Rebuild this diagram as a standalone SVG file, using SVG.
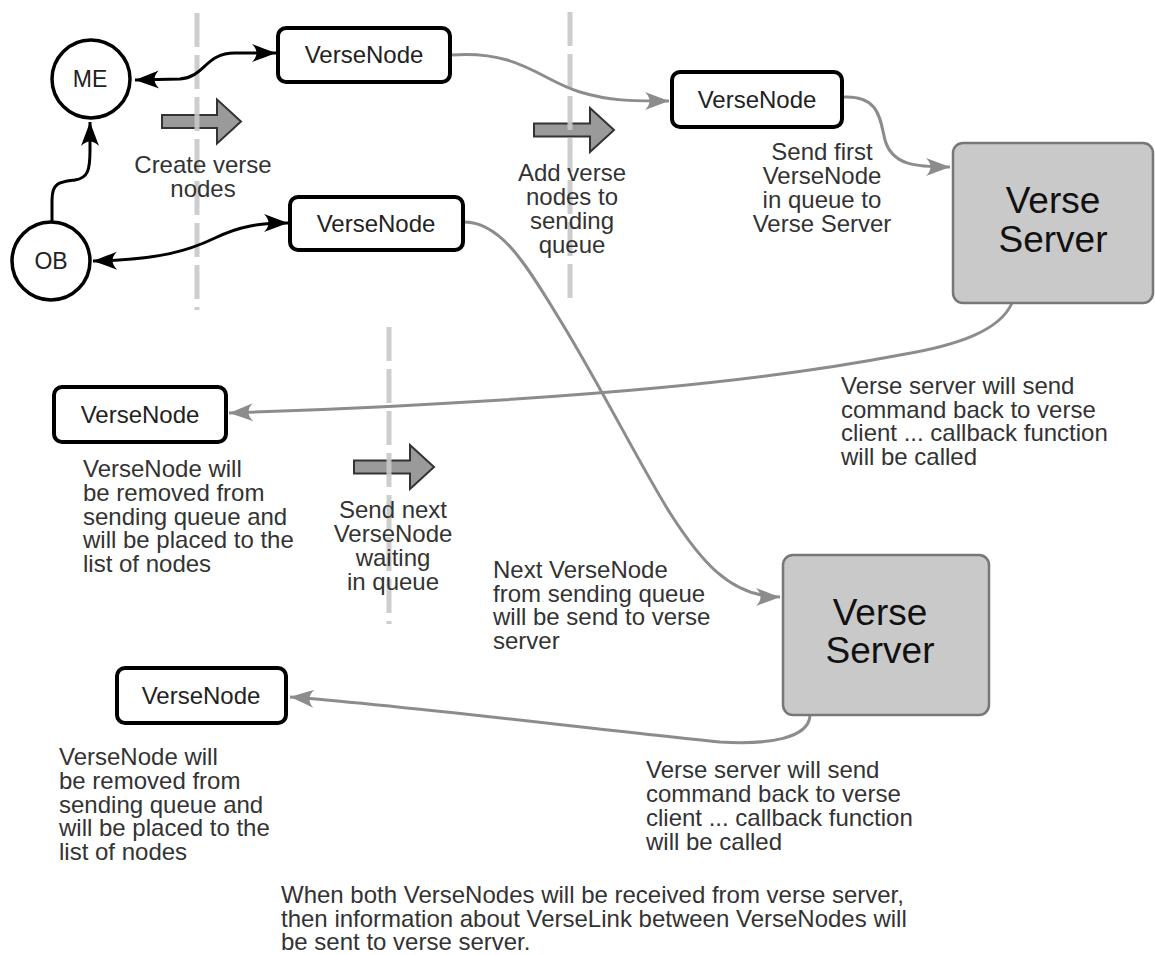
<svg xmlns="http://www.w3.org/2000/svg" width="1155" height="955" viewBox="0 0 1155 955">
<style>
  .vn rect { fill: #fff; stroke: #000; stroke-width: 4; }
  .vn text { font-family: "Liberation Sans", Arial, sans-serif; font-size: 24px; fill: #222; text-anchor: middle; }
  .circ circle { fill: #fff; stroke: #000; stroke-width: 3.5; }
  .circ text { font-family: "Liberation Sans", Arial, sans-serif; font-size: 23px; fill: #222; text-anchor: middle; }
  .srv rect { fill: #c9c9c9; stroke: #777; stroke-width: 2.5; }
  .srv text { font-family: "Liberation Sans", Arial, sans-serif; font-size: 37px; fill: #111; text-anchor: middle; }
  .lbl { font-family: "Liberation Sans", Arial, sans-serif; font-size: 24px; fill: #333; }
  .mid { text-anchor: middle; }
  .blk { fill: none; stroke: #000; stroke-width: 3; }
  .gry { fill: none; stroke: #8c8c8c; stroke-width: 3; }
  .dash { stroke: #c8c8c8; stroke-width: 5; stroke-dasharray: 34 8; fill: none; }
  .barrow { fill: #9a9a9a; stroke: #333; stroke-width: 2; stroke-linejoin: miter; }
</style>
<defs>
  <marker id="ab" markerUnits="userSpaceOnUse" markerWidth="30" markerHeight="24" viewBox="-26 -12 28 24" refX="0" refY="0" orient="auto-start-reverse">
    <path d="M0,0 C-8,-3 -16,-6 -24,-9 C-18,-3 -18,3 -24,9 C-16,6 -8,3 0,0 Z" fill="#000"/>
  </marker>
  <marker id="ag" markerUnits="userSpaceOnUse" markerWidth="30" markerHeight="24" viewBox="-26 -12 28 24" refX="0" refY="0" orient="auto-start-reverse">
    <path d="M0,0 C-8,-3 -16,-6 -24,-9 C-18,-3 -18,3 -24,9 C-16,6 -8,3 0,0 Z" fill="#8c8c8c"/>
  </marker>
</defs>
<rect x="0" y="0" width="1155" height="955" fill="#fff"/>

<g id="block-arrows">
  <polygon class="barrow" points="162,115 217,115 217,99.5 241,121.5 217,143.5 217,128 162,128"/>
  <polygon class="barrow" points="534,123.5 590,123.5 590,108 614,130 590,152 590,136.5 534,136.5"/>
  <polygon class="barrow" points="354,460.5 410,460.5 410,445 434,467 410,489 410,473.5 354,473.5"/>
</g>

<g id="dividers" opacity="0.9">
  <line class="dash" x1="197" y1="13" x2="197" y2="310"/>
  <line class="dash" x1="570" y1="12" x2="570" y2="302"/>
  <line class="dash" x1="389" y1="327" x2="389" y2="624"/>
</g>

<g id="connectors">
  <path class="blk" d="M135,80 L180,79 C205,77 205,53 235,53 L276,53" marker-start="url(#ab)" marker-end="url(#ab)"/>
  <path class="blk" d="M93,261 C160,260 190,250 215,238 C240,226 260,223 288,223" marker-start="url(#ab)" marker-end="url(#ab)"/>
  <path class="blk" d="M52,221 L52,200 C52,182 60,182 75,180 C88,178 90,170 90,150 L90,122" marker-end="url(#ab)"/>
  <path class="gry" d="M451,55 C520,50 540,80 580,92 C610,101 630,101 669,101" marker-end="url(#ag)"/>
  <path class="gry" d="M843,97 C880,95 880,120 885,140 C892,165 915,167 950,167" marker-end="url(#ag)"/>
  <path class="gry" d="M464,222 C500,222 525,262 560,320 C600,385 640,465 670,513 C700,560 730,597 780,597" marker-end="url(#ag)"/>
  <path class="gry" d="M1012,303 C1000,330 960,345 900,355 C780,378 600,400 229,413" marker-end="url(#ag)"/>
  <path class="gry" d="M810,716 C808,738 770,745 720,742 C600,730 400,705 290,697" marker-end="url(#ag)"/>
</g>

<g id="me" class="circ"><circle cx="91" cy="79" r="39"/><text x="90" y="87">ME</text></g>
<g id="ob" class="circ"><circle cx="51" cy="261" r="39"/><text x="51" y="269">OB</text></g>

<g id="vn1" class="vn"><rect x="278" y="28" width="172" height="54" rx="8"/><text x="364" y="63">VerseNode</text></g>
<g id="vn2" class="vn"><rect x="290" y="197" width="173" height="53" rx="8"/><text x="376" y="232">VerseNode</text></g>
<g id="vn3" class="vn"><rect x="672" y="72" width="170" height="55" rx="8"/><text x="757" y="108">VerseNode</text></g>
<g id="vn4" class="vn"><rect x="54" y="387" width="172" height="55" rx="8"/><text x="140" y="423">VerseNode</text></g>
<g id="vn5" class="vn"><rect x="117" y="668" width="169" height="55" rx="8"/><text x="201" y="704">VerseNode</text></g>

<g id="server1" class="srv"><rect x="953" y="143" width="200" height="160" rx="10"/><text x="1053" y="213">Verse</text><text x="1053" y="252">Server</text></g>
<g id="server2" class="srv"><rect x="783" y="555" width="206" height="160" rx="10"/><text x="880" y="625">Verse</text><text x="880" y="663">Server</text></g>

<g id="labels">
  <text class="lbl mid" x="203" y="173">Create verse<tspan x="203" dy="24">nodes</tspan></text>
  <text class="lbl mid" x="572" y="181">Add verse<tspan x="572" dy="24">nodes to</tspan><tspan x="572" dy="24">sending</tspan><tspan x="572" dy="24">queue</tspan></text>
  <text class="lbl mid" x="822" y="160">Send first<tspan x="822" dy="24">VerseNode</tspan><tspan x="822" dy="24">in queue to</tspan><tspan x="822" dy="24">Verse Server</tspan></text>
  <text class="lbl" x="841" y="394">Verse server will send<tspan x="841" dy="23.5">command back to verse</tspan><tspan x="841" dy="23.5">client ... callback function</tspan><tspan x="841" dy="23.5">will be called</tspan></text>
  <text class="lbl" x="83" y="477">VerseNode will<tspan x="83" dy="23.75">be removed from</tspan><tspan x="83" dy="23.75">sending queue and</tspan><tspan x="83" dy="23.75">will be placed to the</tspan><tspan x="83" dy="23.75">list of nodes</tspan></text>
  <text class="lbl mid" x="393" y="518">Send next<tspan x="393" dy="24">VerseNode</tspan><tspan x="393" dy="24">waiting</tspan><tspan x="393" dy="24">in queue</tspan></text>
  <text class="lbl" x="493" y="578">Next VerseNode<tspan x="493" dy="23.5">from sending queue</tspan><tspan x="493" dy="23.5">will be send to verse</tspan><tspan x="493" dy="23.5">server</tspan></text>
  <text class="lbl" x="59" y="765">VerseNode will<tspan x="59" dy="23.8">be removed from</tspan><tspan x="59" dy="23.8">sending queue and</tspan><tspan x="59" dy="23.8">will be placed to the</tspan><tspan x="59" dy="23.8">list of nodes</tspan></text>
  <text class="lbl" x="646" y="778">Verse server will send<tspan x="646" dy="24">command back to verse</tspan><tspan x="646" dy="24">client ... callback function</tspan><tspan x="646" dy="24">will be called</tspan></text>
  <text class="lbl" x="281" y="903">When both VerseNodes will be received from verse server,<tspan x="281" dy="23.5">then information about VerseLink between VerseNodes will</tspan><tspan x="281" dy="23.5">be sent to verse server.</tspan></text>
</g>
</svg>
